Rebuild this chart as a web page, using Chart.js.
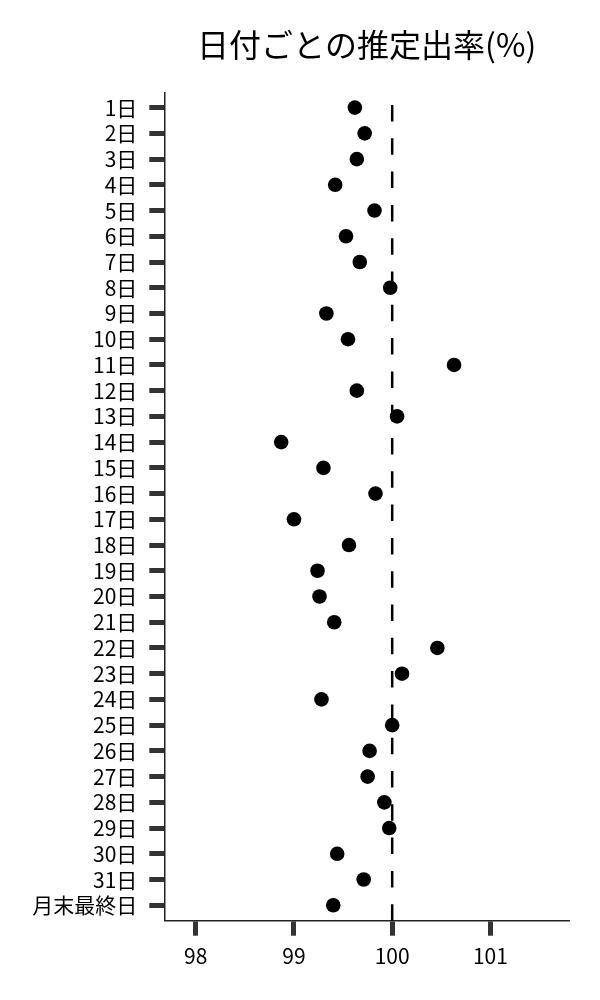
<!DOCTYPE html>
<html lang="ja">
<head>
<meta charset="utf-8">
<title>日付ごとの推定出率(%)</title>
<script src="https://cdn.jsdelivr.net/npm/chart.js@4.4.1/dist/chart.umd.min.js"></script>
<style>
  html, body { margin: 0; padding: 0; background: #fff; }
  #wrap { width: 600px; height: 1000px; position: relative; }
</style>
</head>
<body>
<div id="wrap"><canvas id="rateChart"></canvas></div>
<script>
const chartTitle = "日付ごとの推定出率(%)";

const dayLabels = [
  "1日", "2日", "3日", "4日", "5日", "6日", "7日", "8日", "9日", "10日",
  "11日", "12日", "13日", "14日", "15日", "16日", "17日", "18日", "19日", "20日",
  "21日", "22日", "23日", "24日", "25日", "26日", "27日", "28日", "29日", "30日",
  "31日", "月末最終日"
];

const rateValues = [
  99.62, 99.72, 99.64, 99.42, 99.82, 99.53, 99.67, 99.98, 99.33, 99.55,
  100.63, 99.64, 100.05, 98.87, 99.30, 99.83, 99.00, 99.56, 99.24, 99.26,
  99.41, 100.46, 100.10, 99.28, 100.00, 99.77, 99.75, 99.92, 99.97, 99.44,
  99.71, 99.40
];

const xTickValues = [98, 99, 100, 101];
const referenceRate = 100;

const FONT = "'Noto Sans CJK JP', 'Noto Sans', sans-serif";
const yMin = -0.58;
const yMax = 31.6;

const points = rateValues.map((v, i) => ({ x: v, y: i }));

// titre centré sur la zone du graphique
const titlePlugin = {
  id: "areaTitle",
  afterDraw(chart) {
    const { ctx, chartArea } = chart;
    ctx.save();
    ctx.font = "32px " + FONT;
    ctx.fillStyle = "#000";
    ctx.textAlign = "center";
    ctx.textBaseline = "middle";
    ctx.fillText(chartTitle, (chartArea.left + chartArea.right) / 2, 45);
    ctx.restore();
  }
};

const ctx = document.getElementById("rateChart").getContext("2d");
new Chart(ctx, {
  type: "scatter",
  data: {
    datasets: [
      {
        data: points,
        backgroundColor: "#000",
        borderWidth: 0,
        pointRadius: 7.3,
        pointHoverRadius: 7.3,
        order: 0
      },
      {
        type: "line",
        data: [{ x: referenceRate, y: yMax }, { x: referenceRate, y: yMin }],
        borderColor: "#000",
        borderWidth: 2.5,
        borderDash: [16.5, 16.8],
        pointRadius: 0,
        fill: false,
        order: 1
      }
    ]
  },
  options: {
    responsive: true,
    maintainAspectRatio: false,
    animation: false,
    layout: { padding: { top: 92.7, right: 31, left: 0, bottom: 0 } },
    plugins: {
      legend: { display: false },
      tooltip: { enabled: false },
      title: { display: false }
    },
    scales: {
      x: {
        type: "linear",
        min: 97.68,
        max: 101.8,
        afterBuildTicks: (scale) => {
          scale.ticks = xTickValues.map(v => ({ value: v }));
        },
        afterFit: (scale) => { scale.height = 79.3; },
        grid: {
          drawOnChartArea: false,
          drawTicks: true,
          tickLength: 15,
          tickWidth: 5,
          tickColor: "#333"
        },
        border: { display: true, color: "#222", width: 1.5 },
        ticks: {
          color: "#000",
          padding: 8,
          font: { family: FONT, size: 21 },
          callback: (v) => v
        }
      },
      y: {
        type: "linear",
        reverse: true,
        min: yMin,
        max: yMax,
        afterBuildTicks: (scale) => {
          scale.ticks = dayLabels.map((_, i) => ({ value: i }));
        },
        afterFit: (scale) => { scale.width = 164.3; },
        grid: {
          drawOnChartArea: false,
          drawTicks: true,
          tickLength: 15,
          tickWidth: 5,
          tickColor: "#333"
        },
        border: { display: true, color: "#222", width: 1.5 },
        ticks: {
          color: "#000",
          padding: 12,
          autoSkip: false,
          font: { family: FONT, size: 21 },
          callback: (v) => dayLabels[v]
        }
      }
    }
  },
  plugins: [titlePlugin]
});
</script>
</body>
</html>
